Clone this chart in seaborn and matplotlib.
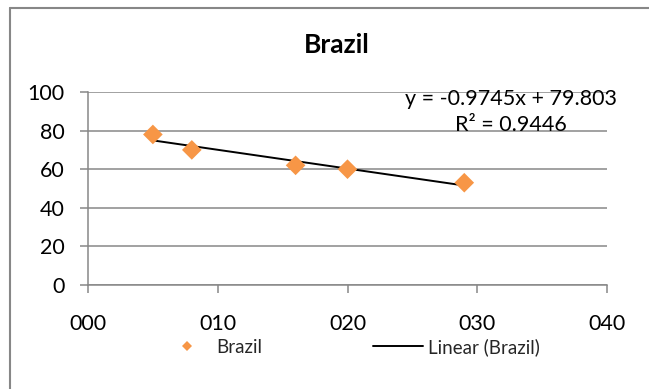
import numpy as np
import pandas as pd
import matplotlib
matplotlib.use("Agg")
import matplotlib.pyplot as plt
from matplotlib.lines import Line2D
import seaborn as sns

# Brazil observations
x_vals = [5, 8, 16, 20, 29]
y_vals = [78, 70, 62, 60, 53]
x_ticks = [0, 10, 20, 30, 40]
y_ticks = [0, 20, 40, 60, 80, 100]
series_name = "Brazil"
trend_name = "Linear (Brazil)"

df = pd.DataFrame({"x": x_vals, "y": y_vals})

sns.set_theme(style="white")
plt.rcParams["font.family"] = ["Lato", "DejaVu Sans"]

ORANGE = "#F79646"
GRID = "#878787"
TICK_FS = 15.5

fig = plt.figure(figsize=(6.49, 3.89), dpi=100)
ax = fig.add_axes([88 / 649, 1 - 285 / 389, (607 - 88) / 649, (285 - 92) / 389])

# linear trend (least squares, drawn over the data range)
sns.regplot(data=df, x="x", y="y", ax=ax, scatter=False, ci=None, truncate=True,
            line_kws=dict(color="black", lw=1.4, zorder=3))
sns.scatterplot(data=df, x="x", y="y", ax=ax, marker="D", s=100, color=ORANGE,
                edgecolor="none", zorder=4, legend=False)

slope, intercept = np.polyfit(x_vals, y_vals, 1)
pred = slope * np.asarray(x_vals) + intercept
resid = np.asarray(y_vals) - pred
r2 = 1 - np.sum(resid ** 2) / np.sum((np.asarray(y_vals) - np.mean(y_vals)) ** 2)
sign = "+" if intercept >= 0 else "-"
eq = f"y = {slope:.4f}x {sign} {abs(intercept):.3f}\nR\u00b2 = {r2:.4f}"
fig.text(511 / 649, 1 - 112 / 389, eq, ha="center", va="center", fontsize=TICK_FS,
         color="black", linespacing=1.4)

ax.set_xlim(0, 40)
ax.set_ylim(0, 100)
ax.set_xticks(x_ticks)
ax.set_yticks(y_ticks)
ax.set_xticklabels([f"{v:03d}" for v in x_ticks])
ax.set_yticklabels([str(v) for v in y_ticks])
ax.set_xlabel("")
ax.set_ylabel("")
ax.yaxis.grid(True, color=GRID, lw=1.1)
ax.xaxis.grid(False)
ax.set_axisbelow(True)
for side in ["top", "right"]:
    ax.spines[side].set_visible(False)
for side in ["left", "bottom"]:
    ax.spines[side].set_color(GRID)
    ax.spines[side].set_linewidth(1.1)
ax.tick_params(axis="both", which="major", direction="out", length=6, width=1.1,
               color=GRID, labelsize=TICK_FS, labelcolor="black")
ax.tick_params(axis="y", pad=11)
ax.tick_params(axis="x", pad=15)
ax.yaxis.set_ticks_position("left")
ax.xaxis.set_ticks_position("bottom")

fig.text(337 / 649, 1 - 45 / 389, series_name, ha="center", va="center",
         fontsize=19, fontweight="bold", color="black")

handles = [
    Line2D([], [], marker="D", ls="none", color=ORANGE, markersize=5.5, markeredgewidth=0),
    Line2D([], [], color="black", lw=1.4),
]
fig.legend(handles, [series_name, trend_name], loc="center", ncol=2,
           bbox_to_anchor=(351 / 649, 1 - 347 / 389), frameon=False, fontsize=13.5,
           handlelength=2.67, handletextpad=0.27, columnspacing=5.9)

# chart area border
fig.add_artist(Line2D([9.5 / 649, 9.5 / 649], [0, 1 - 8 / 389], transform=fig.transFigure,
                      color=GRID, lw=1.5))
fig.add_artist(Line2D([9.5 / 649, 1], [1 - 8 / 389, 1 - 8 / 389], transform=fig.transFigure,
                      color=GRID, lw=1.5))

fig.savefig("out.png", dpi=100, facecolor="white")
